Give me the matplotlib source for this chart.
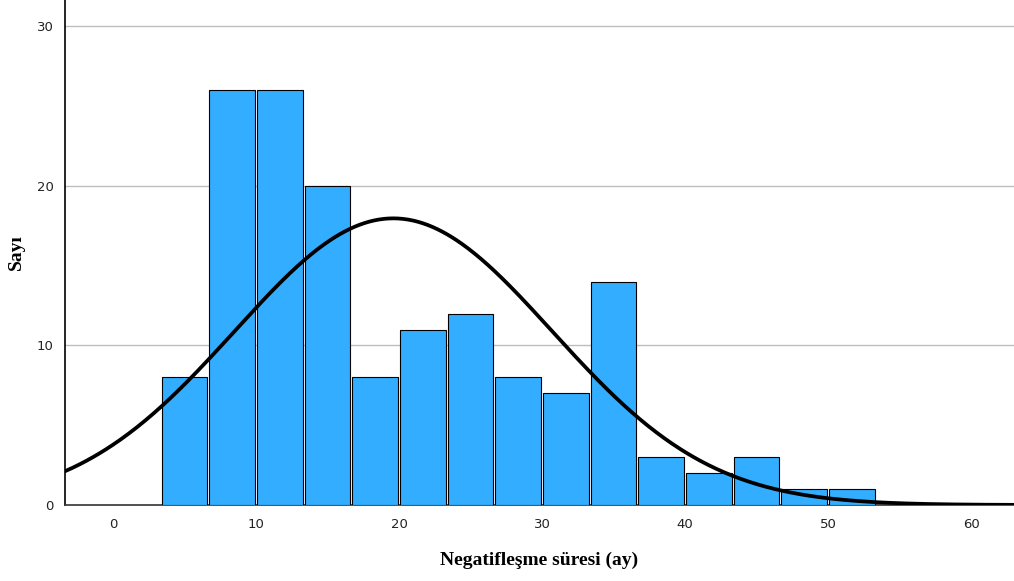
import numpy as np
import matplotlib
matplotlib.use('Agg')
import matplotlib.pyplot as plt

# Histogram bins (months) and counts
bin_edges = [10/3, 20/3, 10, 40/3, 50/3, 20, 70/3, 80/3, 30, 100/3, 110/3, 40, 130/3, 140/3, 50, 160/3]
counts = [8, 26, 26, 20, 8, 11, 12, 8, 7, 14, 3, 2, 3, 1, 1]

# fitted normal curve parameters
curve_mean = 19.6
curve_sd = 11.1

x_ticks = [0, 10, 20, 30, 40, 50, 60]
y_ticks = [0, 10, 20, 30]

fig = plt.figure(figsize=(10.14, 5.81), dpi=100)
ax = fig.add_axes([65/1014, 76/581, 1 - 65/1014, 1 - 76/581])

edges = np.array(bin_edges)
gap = 0.14
ax.bar(edges[:-1] + gap / 2, counts, width=np.diff(edges) - gap, align='edge',
       color='#33ADFF', edgecolor='black', linewidth=0.8, zorder=3)

n = sum(counts)
bw = edges[1] - edges[0]
xs = np.linspace(-4, 64, 600)
ys = n * bw / (curve_sd * np.sqrt(2 * np.pi)) * np.exp(-0.5 * ((xs - curve_mean) / curve_sd) ** 2)
ax.plot(xs, ys, color='black', linewidth=2.7, zorder=4)

ax.set_xlim(-3.36, 63.0)
ax.set_ylim(0, 31.66)
ax.set_xticks(x_ticks)
ax.set_yticks(y_ticks)
ax.tick_params(length=0, labelsize=9.5, colors='#222222')
ax.tick_params(axis='x', pad=9)
ax.tick_params(axis='y', pad=8)

for t in y_ticks[1:]:
    ax.axhline(t, color='#BDBDBD', linewidth=1, zorder=1)

ax.spines['top'].set_visible(False)
ax.spines['right'].set_visible(False)
ax.spines['left'].set_linewidth(1.2)
ax.spines['bottom'].set_linewidth(1.2)
ax.spines['bottom'].set_color('#333333')

ax.set_xlabel('Negatifleşme süresi (ay)', family='Liberation Serif', fontweight='bold',
              fontsize=14, labelpad=15)
ax.set_ylabel('Sayı', family='Liberation Serif', fontweight='bold', fontsize=14)
ax.yaxis.set_label_coords(-40 / 949, 0.50)

fig.savefig('out.png', dpi=100)
